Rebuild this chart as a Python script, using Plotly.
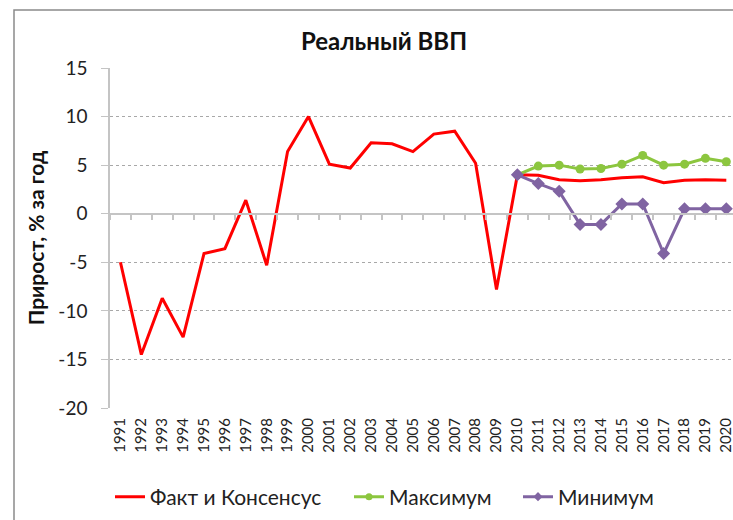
import plotly.graph_objects as go

years = [str(y) for y in range(1991, 2021)]
fact = [-5.0, -14.5, -8.7, -12.7, -4.1, -3.6, 1.4, -5.3, 6.4, 10.0,
        5.1, 4.7, 7.3, 7.2, 6.4, 8.2, 8.5, 5.2, -7.8, 4.0,
        3.95, 3.5, 3.4, 3.5, 3.7, 3.8, 3.2, 3.45, 3.5, 3.45]
fc_years = [str(y) for y in range(2010, 2021)]
maxi = [4.0, 4.9, 5.0, 4.6, 4.65, 5.1, 6.0, 5.0, 5.1, 5.7, 5.35]
mini = [4.0, 3.1, 2.3, -1.1, -1.1, 1.0, 1.0, -4.1, 0.5, 0.5, 0.5]
yticks = [15, 10, 5, 0, -5, -10, -15, -20]
yticktext = ["15", "10", "5", "0", "-5", "-10", "-15", "-20"]

FONT = "Lato, 'Open Sans', sans-serif"
RED = "#ff0000"
GREEN = "#8cc63f"
PURPLE = "#8064a2"

fig = go.Figure()
fig.add_trace(go.Scatter(x=years, y=fact, mode="lines", name="Факт и Консенсус",
                         line=dict(color=RED, width=3), legend="legend"))
fig.add_trace(go.Scatter(x=fc_years, y=maxi, mode="lines+markers", name="Максимум",
                         line=dict(color=GREEN, width=3),
                         marker=dict(symbol="circle", size=9, color=GREEN),
                         showlegend=False, cliponaxis=False))
fig.add_trace(go.Scatter(x=fc_years, y=mini, mode="lines+markers", name="Минимум",
                         line=dict(color=PURPLE, width=3),
                         marker=dict(symbol="diamond", size=10, color=PURPLE),
                         showlegend=False, cliponaxis=False))
# legend entries with the small symbols of the reference
fig.add_trace(go.Scatter(x=[None], y=[None], mode="lines+markers", name="Максимум",
                         line=dict(color=GREEN, width=3),
                         marker=dict(symbol="circle", size=7, color=GREEN),
                         legend="legend2"))
fig.add_trace(go.Scatter(x=[None], y=[None], mode="lines+markers", name="Минимум",
                         line=dict(color=PURPLE, width=3),
                         marker=dict(symbol="diamond", size=7, color=PURPLE),
                         legend="legend3"))
# invisible trace carrying the category axis that crosses at zero
fig.add_trace(go.Scatter(x=years, y=fact, xaxis="x2", mode="lines",
                         line=dict(color="rgba(0,0,0,0)"), showlegend=False,
                         hoverinfo="skip"))

L, T, B = 110, 68, 112
W, H = 733, 520
plot_h = H - T - B
zero_frac = (0 - (-20)) / 35.0

xr = [-0.5, 29.32]
LEG_Y = 1 - 497 / H
leg_common = dict(orientation="h", xref="container", yref="container",
                  xanchor="left", yanchor="middle", y=LEG_Y,
                  font=dict(size=21, color="#222"), bgcolor="rgba(0,0,0,0)")

fig.update_layout(
    width=W, height=H,
    margin=dict(l=L, r=0, t=T, b=B, autoexpand=False),
    paper_bgcolor="white", plot_bgcolor="white",
    font=dict(family=FONT, size=18, color="#222"),
    title=dict(text="<b>Реальный ВВП</b>", x=384 / W, xanchor="center",
               y=1 - 42 / H, yanchor="middle", font=dict(size=24, color="#111")),
    xaxis=dict(type="category", categoryorder="array", categoryarray=years,
               range=xr, tickangle=-90, showgrid=False, showline=False,
               ticks="", ticklabelstandoff=6,
               tickfont=dict(size=15, color="#222"), zeroline=False,
               automargin=False),
    xaxis2=dict(type="category", categoryorder="array", categoryarray=years,
                range=xr, overlaying="x", anchor="free", position=zero_frac,
                side="bottom", showline=True, linecolor="#c4c4c4", linewidth=2,
                ticks="outside", tickson="boundaries", ticklen=5, tickwidth=1.5,
                tickcolor="#c4c4c4", showticklabels=False, showgrid=False,
                zeroline=False),
    yaxis=dict(range=[-20, 15], tickvals=yticks, ticktext=yticktext, showgrid=True,
               gridcolor="#a8a8a8", griddash="dot", gridwidth=1.3,
               zeroline=False, showline=True, linecolor="#c4c4c4", linewidth=1.5,
               ticks="outside", ticklen=7, tickcolor="#c4c4c4",
               ticklabelstandoff=10, automargin=False,
               tickfont=dict(size=19, color="#222"),
               title=dict(text="<b>Прирост, % за год</b>",
                          font=dict(size=21, color="#111"), standoff=8)),
    legend=dict(x=110 / W, **leg_common),
    legend2=dict(x=349 / W, **leg_common),
    legend3=dict(x=518 / W, **leg_common),
    showlegend=True,
)

# outer chart frame (top and left edges visible)
pw = W - L
fig.add_shape(type="path", xref="paper", yref="paper",
              path="M {x0},{y0} L {x0},{y1} L {x1},{y1}".format(
                  x0=(14 - L) / pw, y0=-(B + 20) / plot_h,
                  y1=(H - B - 10) / plot_h, x1=(W + 10 - L) / pw),
              line=dict(color="#8a8a8a", width=1.5), layer="above")

fig.write_html("out.html", config={"displayModeBar": False},
               post_script="document.body.style.margin='0';")
